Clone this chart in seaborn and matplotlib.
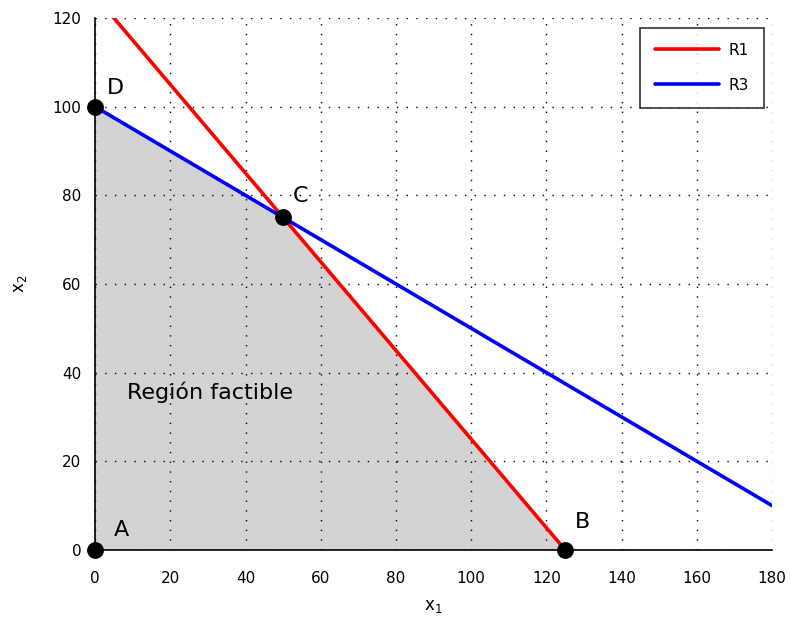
import numpy as np
import pandas as pd
import matplotlib.pyplot as plt
import seaborn as sns

# datos de las rectas
r1_x = [0, 125]
r1_y = [125, 0]
r3_x = [0, 180]
r3_y = [100, 10]

# vertices de la region factible
vert_names = ['A', 'B', 'C', 'D']
vert_x = [0, 125, 50, 0]
vert_y = [0, 0, 75, 100]

sns.set_style('white')
plt.rcParams['font.family'] = ['DejaVu Sans']
plt.rcParams['text.color'] = 'black'
plt.rcParams['axes.labelcolor'] = 'black'

fig = plt.figure(figsize=(7.92, 6.24), dpi=100)
ax = fig.add_axes([0.12, 0.1186, 0.855, 0.8526])

# region factible
ax.fill(vert_x, vert_y, color='#d3d3d3', zorder=1, lw=0)

lines = pd.concat([
    pd.DataFrame({'x': r1_x, 'y': r1_y, 'recta': 'R1'}),
    pd.DataFrame({'x': r3_x, 'y': r3_y, 'recta': 'R3'}),
])
sns.lineplot(data=lines, x='x', y='y', hue='recta', palette=['#ff0000', '#0000ff'],
             linewidth=2.6, ax=ax, zorder=3)

sns.scatterplot(x=vert_x, y=vert_y, color='black', s=125, ax=ax, zorder=4,
                edgecolor='black', clip_on=False, legend=False)

offs = {'A': (7.0, 4.5), 'B': (129.5, 6.3), 'C': (54.5, 79.8), 'D': (5.3, 104.2)}
for n in vert_names:
    ax.text(offs[n][0], offs[n][1], n, fontsize=16, ha='center', va='center',
            color='black', zorder=5)

ax.text(8.5, 35.6, 'Región factible', fontsize=16, ha='left', va='center',
        color='black', zorder=5)

ax.set_xlim(0, 180)
ax.set_ylim(0, 120)
ax.set_xticks(np.arange(0, 181, 20))
ax.set_yticks(np.arange(0, 121, 20))
ax.tick_params(direction='in', length=5, labelsize=11, colors='black', width=1)
ax.tick_params(axis='y', pad=10)
ax.tick_params(axis='x', pad=15)
ax.grid(True, linestyle=(0, (1, 6)), color='black', linewidth=1.0, zorder=2)
ax.set_axisbelow(False)
for s in ['top', 'right']:
    ax.spines[s].set_visible(False)
for s in ['left', 'bottom']:
    ax.spines[s].set_color('black')
    ax.spines[s].set_linewidth(1.2)
    ax.spines[s].set_zorder(2.5)

ax.set_xlabel('x$_1$', fontsize=12, labelpad=8)
ax.set_ylabel('x$_2$', fontsize=12, labelpad=17)

leg = ax.legend(loc='upper right', fontsize=11, frameon=True, fancybox=False,
                edgecolor='black', borderpad=1.0, handlelength=4.2, handletextpad=0.6,
                labelspacing=1.3, bbox_to_anchor=(0.988, 0.982), borderaxespad=0)
leg.get_frame().set_linewidth(1.2)
for t in leg.get_texts():
    t.set_color('black')

fig.savefig('out.png', dpi=100)
